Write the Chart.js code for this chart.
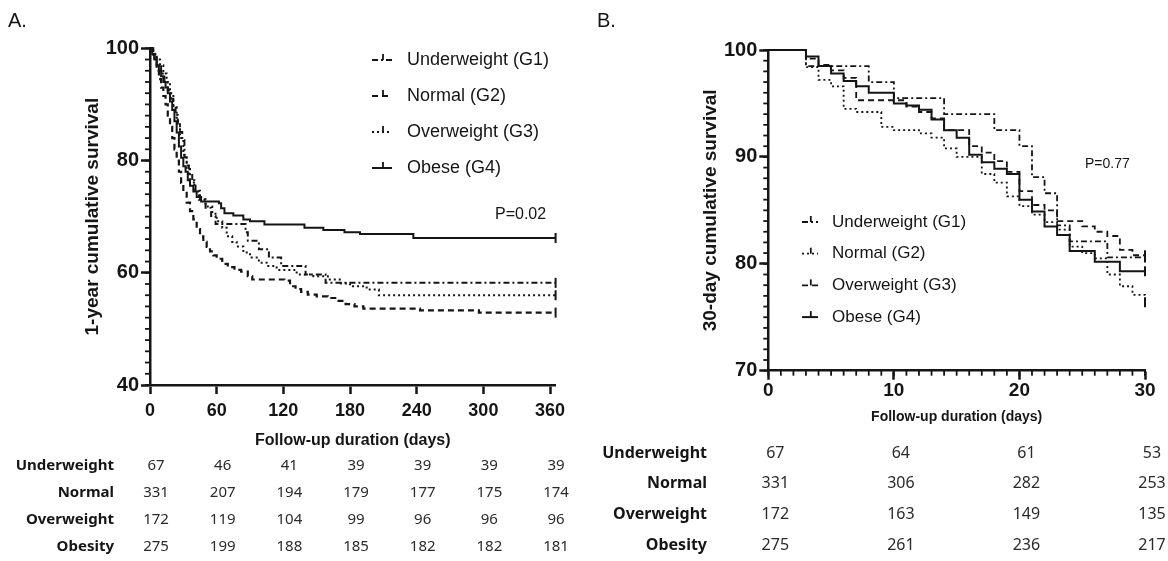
<!DOCTYPE html>
<html>
<head>
<meta charset="utf-8">
<script src="https://cdn.jsdelivr.net/npm/chart.js@4.4.1/dist/chart.umd.min.js"></script>
<style>
  body { margin: 0; background: #fff; width: 1168px; height: 561px; overflow: hidden; position: relative; }
  canvas { position: absolute; top: 0; }
  #chartA { left: 0; }
  #chartB { left: 584px; }
</style>
</head>
<body>
<canvas id="chartA" width="584" height="561"></canvas>
<canvas id="chartB" width="584" height="561"></canvas>
<script>
// ---- panel A: 1-year ----
const tickDaysA = [0, 60, 120, 180, 240, 300, 360];
const tickSurvA = [40, 60, 80, 100];

const daysUnderA = [0, 3, 6, 10, 13, 16, 19, 21, 23, 25, 27, 29, 31, 33, 35, 38, 41, 45, 50, 55, 59, 86, 88, 98, 107, 118, 140, 158, 365];
const survUnderA = [100, 98.5, 97.0, 95.5, 94.0, 92.5, 91.0, 89.6, 88.1, 86.6, 85.1, 83.6, 80.6, 79.1, 77.6, 76.1, 74.6, 73.1, 71.6, 70.1, 68.7, 67.2, 65.7, 64.2, 62.7, 61.2, 59.7, 58.2, 58.2];

const daysNormalA = [0, 2, 4, 6, 8, 10, 12, 14, 16, 18, 20, 22, 24, 26, 28, 30, 33, 36, 39, 42, 45, 48, 51, 54, 57, 60, 65, 70, 76, 82, 88, 92, 121, 126, 131, 136, 142, 150, 160, 168, 176, 184, 192, 243, 296, 365];
const survNormalA = [100, 99, 97.5, 96, 94.5, 93, 91.5, 90, 88, 86, 84, 82, 80, 78, 76, 74.5, 72.5, 71, 69.5, 67.8, 66.5, 65.5, 64.6, 63.8, 63.1, 62.5, 61.6, 61.0, 60.5, 60.2, 59.4, 58.8, 58.6, 57.6, 57.1, 56.6, 56.1, 55.8, 55.5, 55.0, 54.4, 54.0, 53.6, 53.3, 52.9, 52.9];

const daysOverA = [0, 3, 6, 9, 12, 15, 18, 21, 24, 27, 30, 33, 36, 40, 44, 50, 56, 60, 65, 69, 74, 78, 84, 90, 98, 105, 114, 132, 147, 160, 172, 180, 195, 206, 365];
const survOverA = [100, 99, 98, 97, 95.5, 94, 92, 89.5, 87, 84, 81, 78.5, 76.5, 74.5, 73, 71.8, 70.5, 69.2, 68, 66.5, 65.5, 64.7, 63.6, 62.7, 61.8, 61.2, 60.5, 59.7, 59.4, 58.8, 58.1, 57.6, 57.0, 56.0, 56.0];

const daysObeseA = [0, 2, 4, 6, 8, 10, 12, 14, 16, 18, 20, 22, 24, 26, 28, 30, 32, 34, 36, 39, 42, 46, 62, 64, 67, 75, 84, 90, 103, 139, 156, 175, 189, 237, 365];
const survObeseA = [100, 99, 98, 97, 96, 95, 94, 93, 92, 90.5, 89, 87, 85, 82.5, 80.5, 79, 78, 76.5, 75.5, 74.5, 73.5, 72.7, 72.4, 71.5, 70.6, 70.2, 69.5, 69.2, 68.6, 68.0, 67.6, 67.2, 66.9, 66.2, 66.2];

const riskUnderA = [67, 46, 41, 39, 39, 39, 39];
const riskNormalA = [331, 207, 194, 179, 177, 175, 174];
const riskOverA = [172, 119, 104, 99, 96, 96, 96];
const riskObeseA = [275, 199, 188, 185, 182, 182, 181];

// ---- panel B: 30-day ----
const tickDaysB = [0, 10, 20, 30];
const tickSurvB = [70, 80, 90, 100];

const daysUnderB = [0, 3, 8, 10, 14, 18, 20, 21, 22, 23, 24, 27, 30];
const survUnderB = [100, 98.5, 97.0, 95.5, 94.0, 92.5, 91.0, 88.1, 86.6, 83.6, 82.1, 80.6, 80.6];

const daysNormalB = [0, 3, 4, 5, 6, 7, 9, 10, 12, 13, 14, 15, 17, 18, 19, 20, 21, 22, 23, 24, 25, 26, 27, 28, 29, 30];
const survNormalB = [100, 98.4, 97.2, 96.6, 94.5, 94.2, 92.8, 92.5, 92.2, 91.8, 90.8, 90.0, 88.4, 87.6, 86.3, 85.4, 84.6, 83.9, 83.2, 81.6, 81.0, 80.5, 79.0, 77.9, 77.1, 76.4];

const daysOverB = [0, 3, 4, 5, 6, 7, 11, 12, 13, 14, 16, 17, 18, 19, 20, 21, 22, 23, 25, 26, 27, 28, 29, 30];
const survOverB = [100, 99.2, 98.6, 98.1, 97.4, 95.3, 94.7, 94.2, 93.6, 92.5, 91.0, 90.4, 89.6, 88.6, 86.8, 85.5, 85.0, 84.0, 83.5, 83.0, 82.6, 81.3, 80.8, 80.8];

const daysObeseB = [0, 3, 4, 5, 6, 7, 8, 10, 11, 12, 13, 14, 15, 16, 17, 18, 19, 20, 21, 22, 23, 24, 26, 28, 30];
const survObeseB = [100, 99.4, 98.5, 97.8, 97.1, 96.6, 96.0, 95.0, 94.8, 94.4, 93.5, 92.5, 91.8, 90.2, 89.5, 88.9, 88.4, 86.0, 84.9, 83.5, 82.7, 81.2, 80.2, 79.3, 79.3];

const riskUnderB = [67, 64, 61, 53];
const riskNormalB = [331, 306, 282, 253];
const riskOverB = [172, 163, 149, 135];
const riskObeseB = [275, 261, 236, 217];

const groupNames = ["Underweight (G1)", "Normal (G2)", "Overweight (G3)", "Obese (G4)"];
const riskNames = ["Underweight", "Normal", "Overweight", "Obesity"];

const INK = "#151515";
const DASH_DOT = [6, 3, 2, 3];
const DASHED = [6, 4];
const DOTTED = [2, 3];
const SOLID = [];

Chart.defaults.font.family = '"Liberation Sans", Arial, sans-serif';
Chart.defaults.color = INK;

function km(label, days, surv, dash, width) {
    const last = days.length - 1;
    return {
        label: label,
        data: days.map((d, i) => ({ x: d, y: surv[i] })),
        stepped: true,
        borderColor: INK,
        borderWidth: width,
        borderDash: dash,
        fill: false,
        clip: false,
        pointStyle: "line",
        pointRotation: 90,
        pointRadius: days.map((d, i) => i === last ? 5 : 0),
        pointBorderWidth: 2,
        pointBorderColor: INK,
        pointHitRadius: 0
    };
}

function axes(o) {
    return {
        x: {
            type: "linear",
            min: o.xMin,
            max: o.xMax,
            afterBuildTicks: s => { s.ticks = o.xTicks.map(v => ({ value: v })); },
            afterFit: s => { s.height = o.xHeight; },
            border: { display: true, color: INK, width: 2.5 },
            grid: { display: true, drawOnChartArea: false, drawTicks: true, tickLength: 9, tickWidth: 2.5, tickColor: INK },
            ticks: { font: { size: o.xTickSize, weight: "bold" }, color: INK, padding: o.xTickPad, maxRotation: 0, autoSkip: false },
            title: { display: true, text: "Follow-up duration (days)", color: INK,
                     font: { size: o.xTitleSize, weight: "bold" }, padding: { top: 0, bottom: o.xTitlePad } }
        },
        y: {
            type: "linear",
            min: o.yMin,
            max: o.yMax,
            afterBuildTicks: s => { s.ticks = o.yTicks.map(v => ({ value: v })); },
            afterFit: s => { s.width = o.yWidth; },
            border: { display: true, color: INK, width: 2.5 },
            grid: { display: true, drawOnChartArea: false, drawTicks: true, tickLength: 9, tickWidth: 2.5, tickColor: INK },
            ticks: { font: { size: 20, weight: "bold" }, color: INK, padding: 2 },
            title: { display: true, text: o.yTitle, color: INK,
                     font: { size: 19, weight: "bold" }, padding: { top: o.yTitlePad, bottom: 0 } }
        }
    };
}

// minor ticks, legend, p value, panel letter, number-at-risk table
const decor = {
    id: "decor",
    afterDraw(chart, args, o) {
        const ctx = chart.ctx;
        const xs = chart.scales.x, ys = chart.scales.y;
        ctx.save();
        ctx.strokeStyle = INK;
        ctx.fillStyle = INK;

        ctx.lineWidth = 1.8;
        if (o.minorY) {
            for (let v = ys.min; v <= ys.max + 1e-9; v += o.minorY) {
                const p = ys.getPixelForValue(v);
                ctx.beginPath(); ctx.moveTo(xs.left - 5, p); ctx.lineTo(xs.left, p); ctx.stroke();
            }
        }
        if (o.minorX) {
            for (let v = xs.min; v <= xs.max + 1e-9; v += o.minorX) {
                const p = xs.getPixelForValue(v);
                ctx.beginPath(); ctx.moveTo(p, ys.bottom); ctx.lineTo(p, ys.bottom + 5); ctx.stroke();
            }
        }

        const lg = o.legend;
        ctx.font = lg.size + 'px "Liberation Sans", Arial, sans-serif';
        ctx.textAlign = "left";
        ctx.textBaseline = "middle";
        chart.data.datasets.forEach((ds, i) => {
            const y = lg.y + i * lg.dy;
            ctx.lineWidth = ds.borderWidth;
            ctx.setLineDash(ds.borderDash);
            ctx.beginPath(); ctx.moveTo(lg.x, y); ctx.lineTo(lg.x + lg.w, y); ctx.stroke();
            ctx.setLineDash([]);
            ctx.lineWidth = 1.8;
            const mid = lg.x + lg.w * 0.55;
            ctx.beginPath(); ctx.moveTo(mid, y - 6); ctx.lineTo(mid, y); ctx.stroke();
            ctx.fillText(ds.label, lg.textX, y);
        });

        ctx.font = o.p.size + 'px "Liberation Sans", Arial, sans-serif';
        ctx.fillText(o.p.text, o.p.x, o.p.y);

        ctx.font = '20px "Liberation Sans", Arial, sans-serif';
        ctx.fillText(o.panel.text, o.panel.x, o.panel.y);

        const tb = o.table;
        tb.rows.forEach((vals, r) => {
            const y = tb.y0 + r * tb.dy;
            ctx.textAlign = "right";
            ctx.fillStyle = INK;
            ctx.font = "bold " + tb.size + 'px "Noto Sans", sans-serif';
            ctx.fillText(riskNames[r], tb.labelX, y);
            ctx.textAlign = "center";
            ctx.fillStyle = "#2a2a2a";
            ctx.font = tb.size + 'px "Noto Sans", sans-serif';
            vals.forEach((v, k) => ctx.fillText(String(v), xs.getPixelForValue(tb.days[k]) + tb.shift, y));
        });
        ctx.restore();
    }
};

new Chart(document.getElementById("chartA"), {
    type: "line",
    data: {
        datasets: [
            km(groupNames[0], daysUnderA, survUnderA, DASH_DOT, 2),
            km(groupNames[1], daysNormalA, survNormalA, DASHED, 2.2),
            km(groupNames[2], daysOverA, survOverA, DOTTED, 2),
            km(groupNames[3], daysObeseA, survObeseA, SOLID, 2)
        ]
    },
    options: {
        responsive: false,
        animation: false,
        events: [],
        layout: { padding: { left: 0, top: 48.3, right: 28.4, bottom: 106 } },
        scales: axes({
            xMin: 0, xMax: 365, xTicks: tickDaysA, xHeight: 70, xTickSize: 18, xTickPad: 6, xTitleSize: 16, xTitlePad: 5,
            yMin: 40, yMax: 100, yTicks: tickSurvA, yWidth: 150, yTitle: "1-year cumulative survival", yTitlePad: 81
        }),
        plugins: {
            legend: { display: false },
            tooltip: { enabled: false },
            decor: {
                minorY: 2,
                legend: { x: 372, w: 20, textX: 407, y: 60, dy: 36, size: 18 },
                p: { text: "P=0.02", x: 495, y: 215, size: 16 },
                panel: { text: "A.", x: 8, y: 21 },
                table: { rows: [riskUnderA, riskNormalA, riskOverA, riskObeseA], days: tickDaysA,
                         labelX: 114, y0: 466, dy: 27, shift: 6, size: 15 }
            }
        }
    },
    plugins: [decor]
});

new Chart(document.getElementById("chartB"), {
    type: "line",
    data: {
        datasets: [
            km(groupNames[0], daysUnderB, survUnderB, DASH_DOT, 1.8),
            km(groupNames[1], daysNormalB, survNormalB, DOTTED, 1.8),
            km(groupNames[2], daysOverB, survOverB, DASHED, 1.8),
            km(groupNames[3], daysObeseB, survObeseB, SOLID, 2)
        ]
    },
    options: {
        responsive: false,
        animation: false,
        events: [],
        layout: { padding: { left: 0, top: 50, right: 23, bottom: 130.3 } },
        scales: axes({
            xMin: 0, xMax: 30, xTicks: tickDaysB, xHeight: 60, xTickSize: 19, xTickPad: 0, xTitleSize: 14, xTitlePad: 5,
            yMin: 70, yMax: 100, yTicks: tickSurvB, yWidth: 184.3, yTitle: "30-day cumulative survival", yTitlePad: 115
        }),
        plugins: {
            legend: { display: false },
            tooltip: { enabled: false },
            decor: {
                minorY: 1,
                minorX: 1,
                legend: { x: 218, w: 16, textX: 248, y: 222, dy: 31.7, size: 17 },
                p: { text: "P=0.77", x: 501, y: 164, size: 14 },
                panel: { text: "B.", x: 13, y: 21 },
                table: { rows: [riskUnderB, riskNormalB, riskOverB, riskObeseB], days: tickDaysB,
                         labelX: 123, y0: 453, dy: 30.7, shift: 7, size: 16 }
            }
        }
    },
    plugins: [decor]
});
</script>
</body>
</html>
